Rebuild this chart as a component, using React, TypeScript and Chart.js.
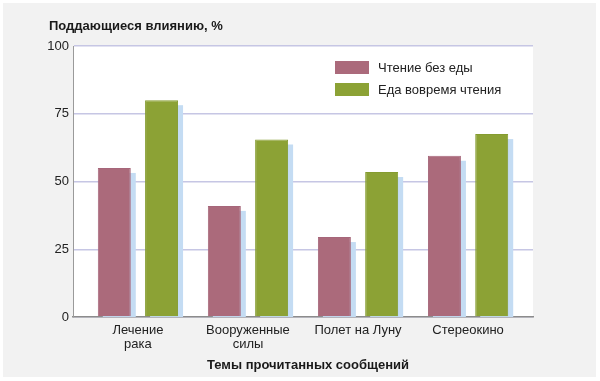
import React, { useEffect, useRef } from 'react';
import { Chart, registerables } from 'chart.js';

Chart.register(...registerables);

const categories: string[][] = [['Лечение', 'рака'], ['Вооруженные', 'силы'], ['Полет на Луну'], ['Стереокино']];
const seriesNames = ['Чтение без еды', 'Еда вовремя чтения'];
const withoutFood = [55, 41, 29.5, 59.5];
const withFood = [80, 65.5, 53.5, 67.5];
const yTicks = [0, 25, 50, 75, 100];
const yTitle = 'Поддающиеся влиянию, %';
const xTitle = 'Темы прочитанных сообщений';

const FONT = 'Arial, "Liberation Sans", sans-serif';
const PINK = '#ab6a7b';
const GREEN = '#8ca235';
const SHADOW = '#c4dcf3';

export default function App() {
  const ref = useRef<HTMLCanvasElement | null>(null);

  useEffect(() => {
    document.body.style.margin = '0';
    const canvas = ref.current;
    if (!canvas) return;

    const background = {
      id: 'background',
      beforeDraw(chart: any) {
        const { ctx, chartArea } = chart;
        ctx.save();
        ctx.fillStyle = '#ffffff';
        ctx.fillRect(0, 0, chart.width, chart.height);
        ctx.fillStyle = '#f2f2f2';
        ctx.fillRect(3, 3, chart.width - 7, chart.height - 7);
        ctx.fillStyle = '#ffffff';
        ctx.fillRect(chartArea.left, chartArea.top, chartArea.right - chartArea.left, chartArea.bottom - chartArea.top);
        ctx.restore();
      },
    };

    // light-blue drop shadow behind every bar, taken from the bar elements' geometry
    const shadow = {
      id: 'barShadow',
      beforeDatasetsDraw(chart: any) {
        const { ctx, chartArea } = chart;
        ctx.save();
        ctx.beginPath();
        ctx.rect(chartArea.left, chartArea.top, chartArea.right - chartArea.left, chartArea.bottom - chartArea.top);
        ctx.clip();
        ctx.fillStyle = SHADOW;
        chart.data.datasets.forEach((_: any, di: number) => {
          const meta = chart.getDatasetMeta(di);
          meta.data.forEach((bar: any) => {
            const { x, y, base, width } = bar.getProps(['x', 'y', 'base', 'width'], true);
            ctx.fillRect(x - width / 2 + 5, y + 5, width, base - y);
          });
        });
        ctx.restore();
      },
    };

    const texts = {
      id: 'texts',
      afterDraw(chart: any) {
        const { ctx, chartArea } = chart;
        ctx.save();
        ctx.fillStyle = '#1a1a1a';
        ctx.textBaseline = 'middle';
        ctx.font = `bold 13px ${FONT}`;
        ctx.textAlign = 'left';
        ctx.fillText(yTitle, 49, 26);
        ctx.textAlign = 'center';
        ctx.fillText(xTitle, (chartArea.left + chartArea.right) / 2 + 5, 365);

        // legend inside the plot area
        ctx.font = `13px ${FONT}`;
        ctx.textAlign = 'left';
        const bx = chartArea.right - 198;
        let by = chartArea.top + 15;
        chart.data.datasets.forEach((ds: any) => {
          ctx.fillStyle = ds.backgroundColor;
          ctx.fillRect(bx, by, 34, 13);
          ctx.fillStyle = '#222222';
          ctx.fillText(ds.label, bx + 43, by + 7);
          by += 22;
        });
        ctx.restore();
      },
    };

    const chart = new Chart(canvas, {
      type: 'bar',
      data: {
        datasets: [
          {
            label: seriesNames[0],
            data: withoutFood.map((v, i) => ({ x: i, y: v })),
            backgroundColor: PINK,
            borderColor: '#a6667a',
            borderWidth: 1,
            barPercentage: 0.698,
            categoryPercentage: 0.859,
            clip: 0,
          },
          {
            label: seriesNames[1],
            data: withFood.map((v, i) => ({ x: i, y: v })),
            backgroundColor: GREEN,
            borderColor: '#859c30',
            borderWidth: 1,
            barPercentage: 0.698,
            categoryPercentage: 0.859,
            clip: 0,
          },
        ],
      },
      options: {
        animation: false,
        responsive: false,
        layout: { padding: { left: 0, right: 67, top: 46, bottom: 0 } },
        plugins: {
          legend: { display: false },
          tooltip: { enabled: false },
          title: { display: false },
        },
        scales: {
          x: {
            type: 'linear',
            offset: false,
            min: -0.59,
            max: 3.59,
            afterBuildTicks(scale: any) {
              scale.ticks = categories.map((_, i) => ({ value: i }));
            },
            afterFit(scale: any) {
              scale.height = 64;
            },
            grid: { display: false, drawTicks: false },
            border: { display: true, color: '#8c8c8c', width: 1.5 },
            ticks: {
              autoSkip: false,
              maxRotation: 0,
              padding: 7,
              color: '#222222',
              font: { family: FONT, size: 13, lineHeight: 1.05 },
              callback: (v: any) => categories[v as number] ?? '',
            },
          },
          y: {
            min: 0,
            max: 100,
            afterBuildTicks(scale: any) {
              scale.ticks = yTicks.map((v) => ({ value: v }));
            },
            afterFit(scale: any) {
              scale.width = 73;
            },
            grid: { color: '#c6c6e4', lineWidth: 1.5, drawTicks: false },
            border: { display: true, color: '#9a9a9a', width: 1 },
            ticks: {
              padding: 4,
              color: '#222222',
              font: { family: FONT, size: 13 },
            },
          },
        },
      },
      plugins: [background, shadow, texts],
    } as any);

    return () => chart.destroy();
  }, []);

  return (
    <div style={{ width: 600, height: 381 }}>
      <canvas ref={ref} width={600} height={381} style={{ display: 'block' }} />
    </div>
  );
}
